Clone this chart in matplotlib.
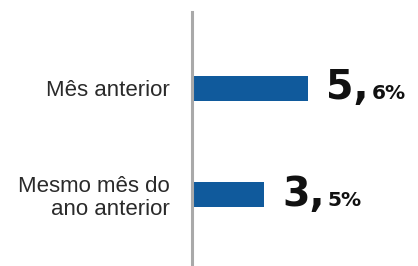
import matplotlib.pyplot as plt

categories = ["Mês anterior", "Mesmo mês do\nano anterior"]
values = [5.6, 3.5]

bar_color = "#105a9c"
px_per_unit = 20.8

fig = plt.figure(figsize=(4.18, 2.66), dpi=100)
ax = fig.add_axes([191.5 / 418, 0, (418 - 191.5) / 418, 254 / 266])

ax.barh(range(len(values)), values, height=0.235, color=bar_color)
ax.set_xlim(0, (418 - 191.5) / px_per_unit)
ax.set_ylim(1.667, -0.718)

for side in ["top", "right", "bottom"]:
    ax.spines[side].set_visible(False)
ax.spines["left"].set_color("#a9a9a9")
ax.spines["left"].set_linewidth(2.2)

ax.set_xticks([])
ax.set_yticks(range(len(categories)), categories)
ax.tick_params(axis="y", length=0, pad=15.5, labelsize=16, labelcolor="#2a2a2a")
for lbl in ax.get_yticklabels():
    lbl.set_fontfamily("Liberation Sans")
    lbl.set_linespacing(1.1)

# value labels: big integer part + small decimal part
big_texts = []
for i, v in enumerate(values):
    whole, dec = f"{v:.1f}".split(".")
    t = ax.annotate(whole + ",", xy=(v, i), xytext=(18, -11), textcoords="offset pixels",
                    ha="left", va="baseline", fontsize=28.5, fontweight="bold",
                    family="DejaVu Sans", color="#111111")
    big_texts.append((t, v, i, dec))

fig.canvas.draw()
for t, v, i, dec in big_texts:
    w = t.get_window_extent().width
    ax.annotate(dec + "%", xy=(v, i), xytext=(18 + w + 3, -11), textcoords="offset pixels",
                ha="left", va="baseline", fontsize=14.5, fontweight="bold",
                family="DejaVu Sans", color="#111111")

fig.savefig("out.png", dpi=100)
